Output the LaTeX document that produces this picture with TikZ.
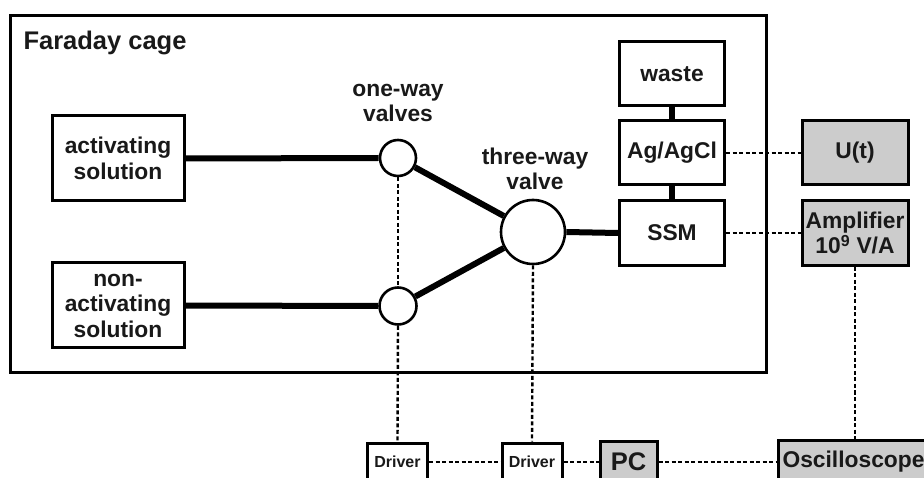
\documentclass[tikz,border=0pt]{standalone}
\usepackage{fontspec}
\setmainfont{Liberation Sans}
\usetikzlibrary{positioning,calc}

\begin{document}
\begin{tikzpicture}[x=1pt, y=-1pt,
  every node/.style={font=\fontsize{22.8}{25.5}\selectfont\bfseries, text=black!90},
  unit/.style={draw, line width=3pt, fill=white, rectangle, align=center,
               minimum width=105pt, minimum height=64pt, inner sep=2pt},
  inst/.style={unit, fill=black!20},
  valve/.style={draw, line width=2.6pt, fill=white, circle, inner sep=0pt},
  small/.style={unit, font=\fontsize{16}{18}\selectfont\bfseries,
                minimum width=60pt, minimum height=38pt},
  cage/.style={draw, line width=3pt, rectangle, inner sep=0pt},
  pipe/.style={line width=6pt},
  sig/.style={line width=2.4pt, dash pattern=on 4pt off 2.5pt}]

\useasboundingbox (0,0) rectangle (924,478);

%% --- Faraday cage ---
\node[cage, minimum width=756pt, minimum height=357pt] (CAGE) at (388,194.5) {};
\node[anchor=west, font=\fontsize{25.5}{28}\selectfont\bfseries] (CAGELBL) at (20,43) {Faraday cage};

%% --- Solutions ---
\node[unit, minimum width=132pt, minimum height=85pt] (ACT) at (118,158.5) {activating\\solution};
\node[unit, minimum width=132pt, minimum height=85pt] (NON) at (118,305.5) {non-\\activating\\solution};

%% --- Valves ---
\node[valve, minimum size=36pt] (V1) at (398,158) {};
\node[valve, minimum size=37pt] (V2) at (398,306) {};
\node[valve, minimum size=64pt] (V3) at (533,232) {};
\node[align=center] (V1LBL) at (398,103) {one-way\\valves};
\node[align=center] (V3LBL) at (535,169) {three-way\\valve};

%% --- Measuring cell ---
\node[unit] (WASTE) at (672,74)  {waste};
\node[unit] (AG)    at (672,153) {Ag/AgCl};
\node[unit, minimum height=65pt] (SSM) at (672,233) {SSM};

%% --- Instruments ---
\node[inst, minimum width=106pt] (UT)  at (855,153) {U(t)};
\node[inst, minimum width=106pt, minimum height=65pt] (AMP) at (855,233) {Amplifier\\10\textsuperscript{9} V/A};

%% --- Control row ---
\node[small] (DRV1) at (397.5,462) {Driver};
\node[small] (DRV2) at (532,462)   {Driver};
\node[inst, font=\fontsize{25.5}{28}\selectfont\bfseries,
      minimum width=57pt, minimum height=42pt] (PC) at (628.5,462) {PC};
\node[inst, anchor=west, minimum width=150pt, minimum height=44pt,
      inner sep=4pt] (OSC) at (777,462) {Oscilloscope};

%% --- Pipes ---
\draw[pipe] (ACT.east) -- (V1.west);
\draw[pipe] (NON.east) -- (V2.west);
\draw[pipe] (V1) -- (V3);
\draw[pipe] (V2) -- (V3);
\draw[pipe] (V3.east) -- (SSM.west);
\draw[pipe] (WASTE.south) -- (AG.north);
\draw[pipe] (AG.south) -- (SSM.north);

%% --- Signal lines ---
\draw[sig] (V1.south) -- (V2.north);
\draw[sig] (V2.south) -- (DRV1.north);
\draw[sig] (V3.south) -- (DRV2.north);
\draw[sig] (AG.east) -- (UT.west);
\draw[sig] (SSM.east) -- (AMP.west);
\draw[sig] (AMP.south) -- (AMP.south |- OSC.north);
\draw[sig] (DRV1.east) -- (DRV2.west);
\draw[sig] (DRV2.east) -- (PC.west);
\draw[sig] (PC.east) -- (OSC.west);
\end{tikzpicture}
\end{document}
